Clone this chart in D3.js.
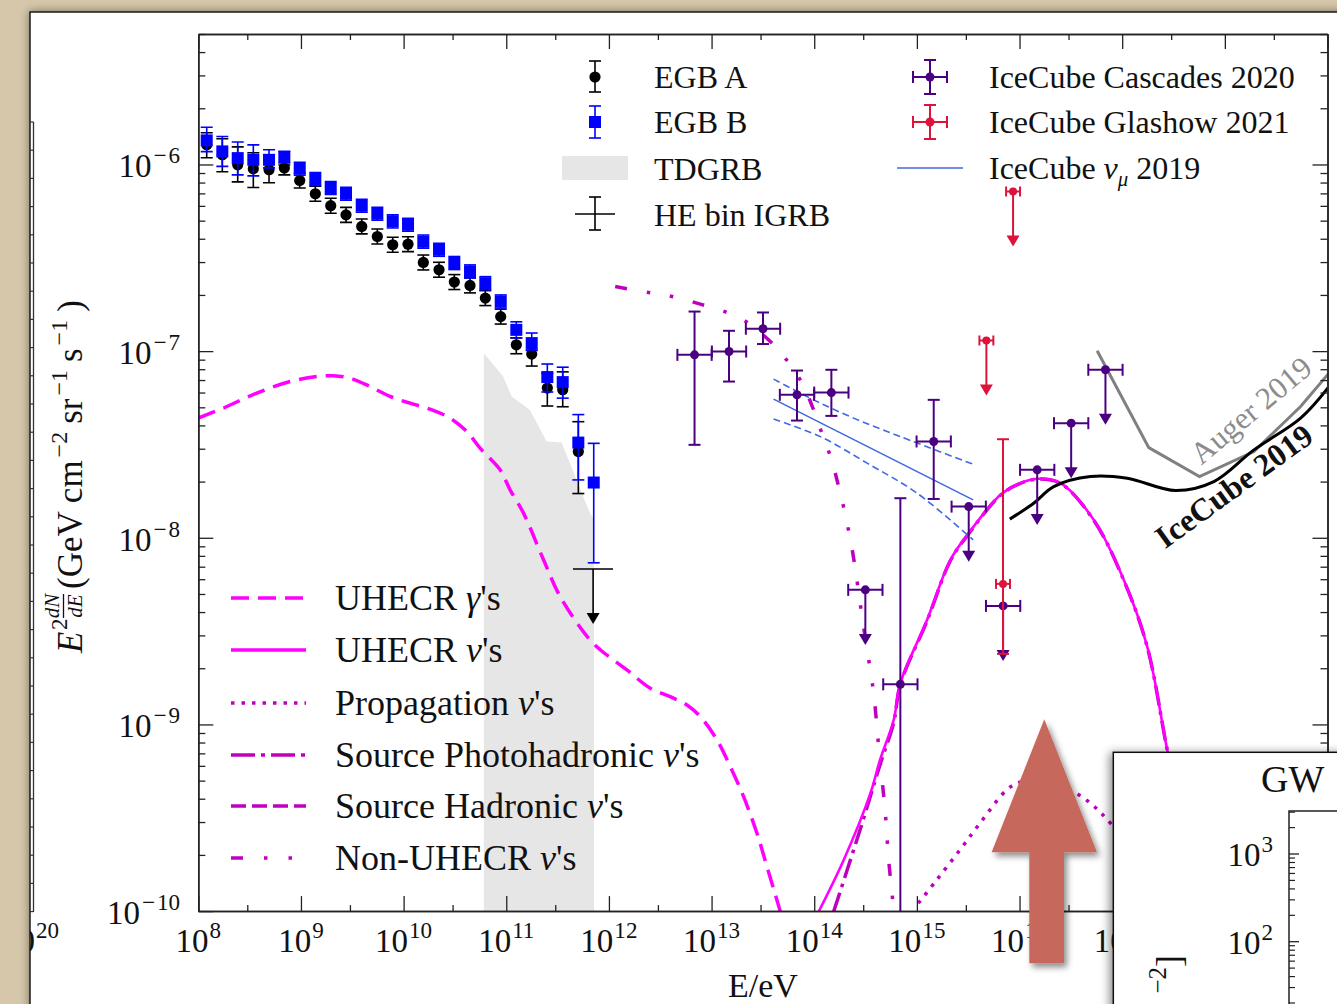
<!DOCTYPE html>
<html>
<head>
<meta charset="utf-8">
<script src="https://cdn.jsdelivr.net/npm/d3@7"></script>
<style>
html, body { margin: 0; padding: 0; background: #d6c7aa; overflow: hidden; }
svg { display: block; }
text { font-family: "Liberation Serif", "Times New Roman", serif; fill: #111; }
</style>
</head>
<body>
<svg id="chart" width="1337" height="1004"></svg>
<script>
// all values are log10: energies in eV, fluxes in GeV cm^-2 sr^-1 s^-1

// Fermi EGB, two foreground models
var egbLogE = [8.082, 8.234, 8.384, 8.536, 8.689, 8.838, 8.988, 9.140, 9.290, 9.439, 9.592, 9.744, 9.894,
               10.043, 10.192, 10.345, 10.494, 10.647, 10.796, 10.946, 11.098, 11.248, 11.400, 11.550, 11.702, 11.852];
var egbA   = [-5.894, -5.948, -6.002, -6.023, -6.028, -6.019, -6.086, -6.157, -6.221, -6.270, -6.332, -6.386, -6.430,
              -6.427, -6.525, -6.564, -6.630, -6.648, -6.716, -6.815, -6.966, -7.016, -7.198, -7.207, -7.538];
var egbAUp = [0.064, 0.086, 0.096, 0.086, 0.075, 0.016, 0.04, 0.04, 0.04, 0.04, 0.04, 0.04, 0.04,
              0.04, 0.04, 0.04, 0.04, 0.04, 0.04, 0.04, 0.037, 0.02, 0.08, 0.096, 0.16];
var egbADn = [0.070, 0.091, 0.091, 0.100, 0.070, 0.037, 0.04, 0.04, 0.04, 0.04, 0.04, 0.04, 0.04,
              0.04, 0.04, 0.04, 0.04, 0.04, 0.04, 0.04, 0.048, 0.064, 0.096, 0.091, 0.225];
var egbB   = [-5.871, -5.930, -5.966, -5.975, -5.975, -5.960, -6.023, -6.078, -6.126, -6.157, -6.221, -6.264, -6.305,
              -6.323, -6.413, -6.457, -6.528, -6.573, -6.636, -6.734, -6.886, -6.957, -7.139, -7.166, -7.490, -7.704];
var egbBUp = [0.07, 0.08, 0.086, 0.08, 0.054, 0.03, 0.035, 0.035, 0.035, 0.035, 0.035, 0.035, 0.035,
              0.035, 0.035, 0.035, 0.035, 0.035, 0.035, 0.035, 0.043, 0.054, 0.07, 0.08, 0.15, 0.21];
var egbBDn = [0.06, 0.08, 0.09, 0.086, 0.043, 0.032, 0.035, 0.035, 0.035, 0.035, 0.035, 0.035, 0.035,
              0.035, 0.035, 0.035, 0.035, 0.035, 0.035, 0.035, 0.043, 0.037, 0.08, 0.086, 0.2, 0.43];

// highest energy IGRB bin (upper limit)
var igrbLogE = 11.846, igrbFlux = -8.167, igrbLogELo = 11.65, igrbLogEHi = 12.04;

// TDGRB band (upper edge)
var tdgrbLogE  = [10.782, 10.970, 11.052, 11.231, 11.393, 11.539, 11.815, 11.854];
var tdgrbUpper = [-7.011, -7.136, -7.243, -7.315, -7.484, -7.490, -7.868, -7.900];

// IceCube cascades 2020
var cascLogE = [12.834, 13.170, 13.501, 13.832, 14.167, 14.498, 14.839, 15.164, 15.505, 15.840, 16.172, 16.503, 16.837];
var cascFlux = [-7.020, -7.002, -6.880, -7.234, -7.222, -8.279, -8.785, -7.484, -7.833, -8.365, -7.636, -7.386, -7.100];
var cascHi   = [-6.788, -6.891, -6.793, -7.104, -7.100, null, -7.788, -7.261, null, null, null, null, null];
var cascLo   = [-7.502, -7.163, -6.962, -7.372, -7.347, null, -11.0, -7.792, null, null, null, null, null];
var cascUL   = [false, false, false, false, false, true, false, false, true, true, true, true, true];
var cascHalfBin = 0.167;

// IceCube Glashow 2021
var glashowLogE = [15.937, 15.677, 15.839];
var glashowFlux = [-6.145, -6.943, -8.247];
var glashowHi   = [null, null, -7.472];
var glashowLo   = [null, null, -8.622];
var glashowUL   = [true, true, false];
var glashowHalfBin = 0.068;

// IceCube numu 2019 best fit and band
var numuLogE  = [13.604, 15.548];
var numuFlux  = [-7.257, -7.797];
var numuHiE   = [13.604, 13.994, 14.384, 14.839, 15.548];
var numuHi    = [-7.150, -7.261, -7.359, -7.458, -7.606];
var numuLoE   = [13.604, 14.059, 14.515, 15.002, 15.548];
var numuLo    = [-7.364, -7.458, -7.600, -7.761, -8.011];

// UHE neutrino limits
var augerLogE = [16.756, 17.259, 17.753, 18.283, 18.738, 19.014];
var augerFlux = [-6.998, -7.517, -7.672, -7.538, -7.297, -7.118];
var ic19LogE  = [15.905, 16.138, 16.333, 16.691, 17.049, 17.520, 17.893, 18.283, 18.738, 19.014];
var ic19Flux  = [-7.900, -7.815, -7.726, -7.672, -7.681, -7.747, -7.699, -7.529, -7.359, -7.190];

// model curves
var gammaLogE = [8.0, 8.244, 8.569, 8.894, 9.154, 9.316, 9.479, 9.674, 9.868, 10.063, 10.258, 10.453, 10.616, 10.745,
                 10.940, 11.037, 11.168, 11.363, 11.525, 11.801, 11.918, 12.175, 12.403, 12.597, 12.760, 12.890,
                 13.053, 13.182, 13.312, 13.442, 13.540, 13.670];
var gammaFlux = [-7.359, -7.305, -7.225, -7.163, -7.136, -7.132, -7.145, -7.190, -7.243, -7.279, -7.311, -7.359, -7.431, -7.520,
                 -7.636, -7.743, -7.868, -8.118, -8.315, -8.538, -8.601, -8.708, -8.806, -8.851, -8.896, -8.958,
                 -9.083, -9.226, -9.387, -9.583, -9.762, -10.003];
var nuLogE = [14.043, 14.287, 14.547, 14.641, 14.774, 14.839, 15.099, 15.327, 15.505, 15.814, 15.990, 16.172, 16.399,
              16.723, 17.016, 17.244, 17.439, 17.600, 17.750];
var nuFlux = [-10.003, -9.726, -9.369, -9.190, -8.976, -8.779, -8.440, -8.118, -7.975, -7.770, -7.711, -7.684, -7.707,
              -7.904, -8.226, -8.583, -9.136, -9.550, -10.050];
var photoLogE = [14.189, 14.449, 14.644, 14.774, 14.839, 15.099, 15.327, 15.505, 15.814, 15.990, 16.172, 16.399,
                 16.723, 17.016, 17.244, 17.439, 17.600, 17.750];
var photoFlux = [-10.003, -9.560, -9.210, -8.990, -8.785, -8.445, -8.122, -7.978, -7.772, -7.713, -7.686, -7.709,
                 -7.906, -8.228, -8.585, -9.138, -9.552, -10.052];
var propLogE = [15.014, 15.193, 15.420, 15.615, 15.875, 16.000, 16.200, 16.496, 16.691, 16.886, 17.200, 17.500];
var propFlux = [-9.958, -9.833, -9.672, -9.529, -9.351, -9.310, -9.290, -9.351, -9.422, -9.529, -9.750, -10.050];
var nonLogE = [12.061, 12.386, 12.614, 12.890, 13.150, 13.361, 13.572, 13.750, 13.881, 13.994, 14.086, 14.167, 14.238,
               14.303, 14.352, 14.390, 14.466, 14.515, 14.554, 14.586, 14.628, 14.661, 14.693, 14.725, 14.758, 14.774];
var nonFlux = [-6.654, -6.686, -6.707, -6.748, -6.793, -6.850, -6.949, -7.061, -7.171, -7.315, -7.458, -7.579, -7.726,
               -7.877, -8.011, -8.130, -8.422, -8.601, -8.734, -8.868, -9.119, -9.297, -9.476, -9.726, -9.905, -10.003];

var xExps = [8, 9, 10, 11, 12, 13, 14, 15, 16, 17, 18, 19];
var xLabelExps = [8, 9, 10, 11, 12, 13, 14, 15, 16, 17];   // the rest sit under the inset
var yExps = [-10, -9, -8, -7, -6];
var insetExps = [2, 3];

var svg = d3.select("#chart");
var defs = svg.append("defs");

function shadowFilter(id, dx, dy, sd, op) {
    var f = defs.append("filter").attr("id", id)
        .attr("x", "-10%").attr("y", "-10%").attr("width", "120%").attr("height", "120%");
    f.append("feDropShadow").attr("dx", dx).attr("dy", dy).attr("stdDeviation", sd)
        .attr("flood-color", "#000").attr("flood-opacity", op);
}
shadowFilter("paperShadow", 0, 0, 5, 0.45);
shadowFilter("insetShadow", -3, 1, 5, 0.45);
shadowFilter("arrowShadow", 3, 4, 3, 0.45);

defs.append("clipPath").attr("id", "paperClip")
    .append("rect").attr("x", 30).attr("y", 12).attr("width", 1307).attr("height", 992);
defs.append("clipPath").attr("id", "plotClip")
    .append("rect").attr("x", 198.3).attr("y", 34).attr("width", 1129.2).attr("height", 877.1);

// scales
var x = d3.scaleLog().domain([1e8, 1e19]).range([198.3, 1327.5]);
var y = d3.scaleLog().domain([1e-10, 5e-6]).range([911.1, 34]);
function X(l) { return x(Math.pow(10, l)); }
function Y(l) { return y(Math.pow(10, l)); }
function pairs(a, b) { return a.map(function(v, i) { return [v, b[i]]; }); }
var smooth = d3.line().x(function(d) { return X(d[0]); }).y(function(d) { return Y(d[1]); })
    .curve(d3.curveCatmullRom.alpha(0.5));
var straight = d3.line().x(function(d) { return X(d[0]); }).y(function(d) { return Y(d[1]); });

// paper
svg.append("rect").attr("x", 30).attr("y", 12).attr("width", 1400).attr("height", 1100)
    .attr("fill", "#fff").attr("stroke", "#1a1a1a").attr("stroke-width", 1.5)
    .attr("filter", "url(#paperShadow)");

var paper = svg.append("g").attr("clip-path", "url(#paperClip)");

// edge of the neighbouring panel
paper.append("line").attr("x1", 33.5).attr("x2", 33.5).attr("y1", 122).attr("y2", 912)
    .attr("stroke", "#333").attr("stroke-width", 1.3);
paper.selectAll(".nbTick").data(d3.range(122, 912, 28.2)).enter().append("line")
    .attr("x1", 30).attr("x2", 33.5).attr("y1", function(d) { return d; }).attr("y2", function(d) { return d; })
    .attr("stroke", "#333").attr("stroke-width", 1.2);
var nb = paper.append("text").attr("x", 35).attr("y", 951.7).attr("text-anchor", "end").attr("font-size", 33);
nb.append("tspan").text("10");
paper.append("text").attr("x", 36).attr("y", 938).attr("font-size", 23).text("20");

// ---------- main plot ----------
var plot = paper.append("g");
var data = plot.append("g").attr("clip-path", "url(#plotClip)");

// TDGRB band
var tdgrbPts = pairs(tdgrbLogE, tdgrbUpper);
var area = d3.area().x(function(d) { return X(d[0]); }).y0(Y(-11)).y1(function(d) { return Y(d[1]); });
data.append("path").attr("d", area(tdgrbPts)).attr("fill", "#e6e6e6");

// model curves
data.append("path").attr("d", smooth(pairs(gammaLogE, gammaFlux)))
    .attr("fill", "none").attr("stroke", "#ff00ff").attr("stroke-width", 3.5).attr("stroke-dasharray", "18,9");
data.append("path").attr("d", smooth(pairs(nonLogE, nonFlux)))
    .attr("fill", "none").attr("stroke", "#bf00bf").attr("stroke-width", 3.5).attr("stroke-dasharray", "12,20,3.5,20,3.5,20");
data.append("path").attr("d", smooth(pairs(propLogE, propFlux)))
    .attr("fill", "none").attr("stroke", "#bf00bf").attr("stroke-width", 3.5).attr("stroke-dasharray", "3.5,7");
data.append("path").attr("d", smooth(pairs(photoLogE, photoFlux)))
    .attr("fill", "none").attr("stroke", "#bf00bf").attr("stroke-width", 3.5).attr("stroke-dasharray", "20,6,3.5,6");
data.append("path").attr("d", smooth(pairs(nuLogE, nuFlux)))
    .attr("fill", "none").attr("stroke", "#ff00ff").attr("stroke-width", 2.6);

// IceCube numu band
data.append("path").attr("d", straight(pairs(numuLogE, numuFlux)))
    .attr("fill", "none").attr("stroke", "#4169e1").attr("stroke-width", 1.6);
[pairs(numuHiE, numuHi), pairs(numuLoE, numuLo)].forEach(function(p) {
    data.append("path").attr("d", smooth(p)).attr("fill", "none").attr("stroke", "#4169e1")
        .attr("stroke-width", 1.6).attr("stroke-dasharray", "7,4");
});

// UHE limits
data.append("path").attr("d", straight(pairs(augerLogE, augerFlux)))
    .attr("fill", "none").attr("stroke", "#808080").attr("stroke-width", 3);
data.append("path").attr("d", smooth(pairs(ic19LogE, ic19Flux)))
    .attr("fill", "none").attr("stroke", "#000").attr("stroke-width", 3);

// error bar helpers
function vbar(g, cx, y1, y2, cap, color, w) {
    g.append("line").attr("x1", cx).attr("x2", cx).attr("y1", y1).attr("y2", y2)
        .attr("stroke", color).attr("stroke-width", w);
    if (cap) {
        [y1, y2].forEach(function(yy) {
            g.append("line").attr("x1", cx - cap).attr("x2", cx + cap).attr("y1", yy).attr("y2", yy)
                .attr("stroke", color).attr("stroke-width", w);
        });
    }
}
function hbar(g, x1, x2, cy, cap, color, w) {
    g.append("line").attr("x1", x1).attr("x2", x2).attr("y1", cy).attr("y2", cy)
        .attr("stroke", color).attr("stroke-width", w);
    if (cap) {
        [x1, x2].forEach(function(xx) {
            g.append("line").attr("x1", xx).attr("x2", xx).attr("y1", cy - cap).attr("y2", cy + cap)
                .attr("stroke", color).attr("stroke-width", w);
        });
    }
}
function ulArrow(g, cx, y0, y1, color, w) {
    g.append("line").attr("x1", cx).attr("x2", cx).attr("y1", y0).attr("y2", y1 - 6)
        .attr("stroke", color).attr("stroke-width", w);
    g.append("path").attr("d", "M" + (cx - 6.5) + "," + (y1 - 11) + "L" + (cx + 6.5) + "," + (y1 - 11) + "L" + cx + "," + y1 + "Z")
        .attr("fill", color);
}
var ulDecades = 0.295;

// cascades
var casc = data.append("g");
cascLogE.forEach(function(e, i) {
    var cx = X(e), cy = Y(cascFlux[i]);
    hbar(casc, X(e - cascHalfBin), X(e + cascHalfBin), cy, 6, "#4b0082", 2);
    if (cascUL[i]) ulArrow(casc, cx, cy, Y(cascFlux[i] - ulDecades), "#4b0082", 2);
    else vbar(casc, cx, Y(cascHi[i]), Y(cascLo[i]), 6, "#4b0082", 2);
});
casc.selectAll("circle").data(cascLogE).enter().append("circle")
    .attr("cx", function(d) { return X(d); }).attr("cy", function(d, i) { return Y(cascFlux[i]); })
    .attr("r", 4.5).attr("fill", "#4b0082");

// Glashow
var gla = data.append("g");
glashowLogE.forEach(function(e, i) {
    var cx = X(e), cy = Y(glashowFlux[i]);
    hbar(gla, X(e - glashowHalfBin), X(e + glashowHalfBin), cy, 5, "#dc143c", 2);
    if (glashowUL[i]) ulArrow(gla, cx, cy, Y(glashowFlux[i] - ulDecades), "#dc143c", 2);
    else vbar(gla, cx, Y(glashowHi[i]), Y(glashowLo[i]), 6, "#dc143c", 2);
});
gla.selectAll("circle").data(glashowLogE).enter().append("circle")
    .attr("cx", function(d) { return X(d); }).attr("cy", function(d, i) { return Y(glashowFlux[i]); })
    .attr("r", 4).attr("fill", "#dc143c");

// EGB A (black) and EGB B (blue)
var ga = data.append("g");
egbA.forEach(function(v, i) {
    vbar(ga, X(egbLogE[i]), Y(v + egbAUp[i]), Y(v - egbADn[i]), 6, "#000", 1.6);
});
ga.selectAll("circle").data(egbA).enter().append("circle")
    .attr("cx", function(d, i) { return X(egbLogE[i]); }).attr("cy", function(d) { return Y(d); })
    .attr("r", 5.6).attr("fill", "#000");
var gb = data.append("g");
egbB.forEach(function(v, i) {
    vbar(gb, X(egbLogE[i]), Y(v + egbBUp[i]), Y(v - egbBDn[i]), 6, "#0000ff", 1.6);
});
gb.selectAll("rect").data(egbB).enter().append("rect")
    .attr("x", function(d, i) { return X(egbLogE[i]) - 6; }).attr("y", function(d) { return Y(d) - 6; })
    .attr("width", 12).attr("height", 12).attr("fill", "#0000ff");

// HE bin IGRB
var ig = data.append("g");
hbar(ig, X(igrbLogELo), X(igrbLogEHi), Y(igrbFlux), 0, "#000", 1.6);
ulArrow(ig, X(igrbLogE), Y(igrbFlux), Y(igrbFlux - ulDecades), "#000", 1.6);

// limit labels
var aPos = [X(18.32), Y(-7.36)];
data.append("text").attr("transform", "translate(" + aPos[0] + "," + aPos[1] + ") rotate(-40)")
    .attr("text-anchor", "middle").attr("font-size", 31).style("fill", "#8c8c8c").text("Auger 2019");
var iPos = [X(18.15), Y(-7.77)];
data.append("text").attr("transform", "translate(" + iPos[0] + "," + iPos[1] + ") rotate(-36)")
    .attr("text-anchor", "middle").attr("font-size", 32).attr("font-weight", "bold").text("IceCube 2019");

// axes
function styleAxis(g) {
    g.select(".domain").attr("stroke", "#222").attr("stroke-width", 1.5);
    g.selectAll(".tick line").attr("stroke", "#222").attr("stroke-width", 1.3);
}
var majorX = xExps.map(function(e) { return Math.pow(10, e); });
var minorX = xExps.slice(0, -1).map(function(e) { return 3 * Math.pow(10, e); });
var majorY = yExps.map(function(e) { return Math.pow(10, e); });
var minorY = [];
yExps.forEach(function(e) {
    d3.range(2, 10).forEach(function(k) { if (k * Math.pow(10, e) <= 5e-6) minorY.push(k * Math.pow(10, e)); });
});
var axes = plot.append("g");
[[d3.axisBottom, 911.1], [d3.axisTop, 34]].forEach(function(a) {
    axes.append("g").attr("transform", "translate(0," + a[1] + ")")
        .call(a[0](x).tickValues(majorX).tickSize(-15).tickSizeOuter(0).tickFormat("")).call(styleAxis);
    axes.append("g").attr("transform", "translate(0," + a[1] + ")")
        .call(a[0](x).tickValues(minorX).tickSize(-6).tickSizeOuter(0).tickFormat("")).call(styleAxis);
});
[[d3.axisLeft, 198.3], [d3.axisRight, 1327.5]].forEach(function(a) {
    axes.append("g").attr("transform", "translate(" + a[1] + ",0)")
        .call(a[0](y).tickValues(majorY).tickSize(-15).tickSizeOuter(0).tickFormat("")).call(styleAxis);
    axes.append("g").attr("transform", "translate(" + a[1] + ",0)")
        .call(a[0](y).tickValues(minorY).tickSize(-7).tickSizeOuter(0).tickFormat("")).call(styleAxis);
});

function powText(g, px, py, anchor, exp, size) {
    var t = g.append("text").attr("x", px).attr("y", py).attr("text-anchor", anchor).attr("font-size", size);
    t.append("tspan").text("10");
    var s = t.append("tspan").attr("dx", exp < 0 ? 2 : 1).attr("dy", -size * 0.43).attr("font-size", size * 0.7);
    if (exp < 0) {
        s.text("\u2212");
        t.append("tspan").attr("dx", 2).attr("font-size", size * 0.7).text(String(-exp));
    } else {
        s.text(String(exp));
    }
    return t;
}
xLabelExps.forEach(function(e) { powText(axes, X(e), 951.7, "middle", e, 33); });
yExps.forEach(function(e) { powText(axes, 180, Y(e) + 13, "end", e, 33); });

axes.append("text").attr("x", 763).attr("y", 997).attr("text-anchor", "middle").attr("font-size", 34).text("E/eV");

// y label
var yl = axes.append("g").attr("transform", "translate(82,653) rotate(-90)");
yl.append("text").attr("x", 0).attr("y", 0).attr("font-size", 35).attr("font-style", "italic").text("E");
yl.append("text").attr("x", 23).attr("y", -15).attr("font-size", 23).text("2");
yl.append("text").attr("x", 47).attr("y", -23).attr("text-anchor", "middle").attr("font-size", 21)
    .attr("font-style", "italic").text("dN");
yl.append("line").attr("x1", 35).attr("x2", 59).attr("y1", -18.5).attr("y2", -18.5)
    .attr("stroke", "#111").attr("stroke-width", 1.3);
yl.append("text").attr("x", 47).attr("y", 0).attr("text-anchor", "middle").attr("font-size", 21)
    .attr("font-style", "italic").text("dE");
var unit = yl.append("text").attr("x", 64).attr("y", 0).attr("font-size", 35);
unit.append("tspan").text("(GeV cm");
unit.append("tspan").attr("dx", 3).attr("dy", -15).attr("font-size", 24).text("\u22122");
unit.append("tspan").attr("dx", 8).attr("dy", 15).text("sr");
unit.append("tspan").attr("dx", 3).attr("dy", -15).attr("font-size", 24).text("\u22121");
unit.append("tspan").attr("dx", 8).attr("dy", 15).text("s");
unit.append("tspan").attr("dx", 3).attr("dy", -15).attr("font-size", 24).text("\u22121");
unit.append("tspan").attr("dx", 8).attr("dy", 15).text(")");

// ---------- legends ----------
var leg = plot.append("g");
function legText(px, py, size, parts) {
    var t = leg.append("text").attr("x", px).attr("y", py).attr("font-size", size);
    parts.forEach(function(p) {
        var s = t.append("tspan").text(p.t);
        if (p.i) s.attr("font-style", "italic");
        if (p.sub) s.attr("font-size", size * 0.65).attr("dy", 7);
        if (p.back) s.attr("dy", -7);
    });
}
// top left column
var lgA = leg.append("g");
vbar(lgA, 595, 61, 92, 6, "#000", 1.6);
lgA.append("circle").attr("cx", 595).attr("cy", 77).attr("r", 5.6).attr("fill", "#000");
vbar(lgA, 595, 106, 138, 6, "#0000ff", 1.6);
lgA.append("rect").attr("x", 589).attr("y", 116).attr("width", 12).attr("height", 12).attr("fill", "#0000ff");
lgA.append("rect").attr("x", 562).attr("y", 156).attr("width", 66).attr("height", 24).attr("fill", "#e6e6e6");
hbar(lgA, 575, 615, 214, 0, "#000", 1.6);
vbar(lgA, 595, 197, 230, 6, "#000", 1.6);
legText(654, 88, 32, [{t: "EGB A"}]);
legText(654, 133, 32, [{t: "EGB B"}]);
legText(654, 180, 32, [{t: "TDGRB"}]);
legText(654, 226, 32, [{t: "HE bin IGRB"}]);
// top right column
hbar(lgA, 913, 947, 77, 6, "#4b0082", 2);
vbar(lgA, 930, 60, 94, 6, "#4b0082", 2);
lgA.append("circle").attr("cx", 930).attr("cy", 77).attr("r", 4.5).attr("fill", "#4b0082");
hbar(lgA, 913, 947, 122, 6, "#dc143c", 2);
vbar(lgA, 930, 105, 139, 6, "#dc143c", 2);
lgA.append("circle").attr("cx", 930).attr("cy", 122).attr("r", 4.5).attr("fill", "#dc143c");
lgA.append("line").attr("x1", 897).attr("x2", 963).attr("y1", 168).attr("y2", 168)
    .attr("stroke", "#4169e1").attr("stroke-width", 1.6);
legText(989, 88, 32, [{t: "IceCube Cascades 2020"}]);
legText(989, 133, 32, [{t: "IceCube Glashow 2021"}]);
legText(989, 179, 32, [{t: "IceCube "}, {t: "\u03bd", i: true}, {t: "\u03bc", i: true, sub: true}, {t: " 2019", back: true}]);

// bottom left legend
var modelLeg = [
    {dash: "18,9", color: "#ff00ff", parts: [{t: "UHECR "}, {t: "\u03b3", i: true}, {t: "'s"}]},
    {dash: null, color: "#ff00ff", parts: [{t: "UHECR "}, {t: "\u03bd", i: true}, {t: "'s"}]},
    {dash: "3.5,7", color: "#bf00bf", parts: [{t: "Propagation "}, {t: "\u03bd", i: true}, {t: "'s"}]},
    {dash: "24,6,4,6", color: "#bf00bf", parts: [{t: "Source Photohadronic "}, {t: "\u03bd", i: true}, {t: "'s"}]},
    {dash: "15,6", color: "#bf00bf", parts: [{t: "Source Hadronic "}, {t: "\u03bd", i: true}, {t: "'s"}]},
    {dash: "12,21,3.5,21,3.5,21", color: "#bf00bf", parts: [{t: "Non-UHECR "}, {t: "\u03bd", i: true}, {t: "'s"}]}
];
var legY = [598, 650, 703, 755, 806, 858];
modelLeg.forEach(function(m, i) {
    var l = leg.append("line").attr("x1", 231).attr("x2", 306).attr("y1", legY[i]).attr("y2", legY[i])
        .attr("stroke", m.color).attr("stroke-width", 3.5);
    if (m.dash) l.attr("stroke-dasharray", m.dash);
    legText(335, legY[i] + 12, 36, m.parts);
});

// ---------- overlaid inset panel ----------
var inset = svg.append("g");
inset.append("rect").attr("x", 1113.3).attr("y", 752.3).attr("width", 400).attr("height", 400)
    .attr("fill", "#fff").attr("stroke", "#111").attr("stroke-width", 1.5).attr("filter", "url(#insetShadow)");
inset.append("text").attr("x", 1261).attr("y", 792).attr("font-size", 38).text("GW");
var yi = d3.scaleLog().domain([100, 1000]).range([941.7, 854]);
inset.append("path").attr("d", "M1289,1010V811H1345").attr("fill", "none").attr("stroke", "#222").attr("stroke-width", 1.5);
var insetMinor = [];
[1, 2, 3].forEach(function(e) {
    d3.range(2, 10).forEach(function(k) {
        var v = k * Math.pow(10, e);
        if (yi(v) > 812 && yi(v) < 1004) insetMinor.push(v);
    });
});
inset.selectAll(".imin").data(insetMinor).enter().append("line")
    .attr("x1", 1289).attr("x2", 1295).attr("y1", function(d) { return yi(d); }).attr("y2", function(d) { return yi(d); })
    .attr("stroke", "#222").attr("stroke-width", 1.2);
insetExps.forEach(function(e) {
    var v = Math.pow(10, e);
    inset.append("line").attr("x1", 1289).attr("x2", 1299).attr("y1", yi(v)).attr("y2", yi(v))
        .attr("stroke", "#222").attr("stroke-width", 1.3);
    powText(inset, 1273, yi(v) + 12, "end", e, 33);
});
var il = inset.append("text").attr("transform", "translate(1181,955) rotate(-90)")
    .attr("text-anchor", "end").attr("font-size", 36);
il.append("tspan").attr("dy", -15).attr("font-size", 25).text("\u22122");
il.append("tspan").attr("dy", 15).text("]");

// annotation arrow
svg.append("path")
    .attr("d", "M1044.3,719.3L1097,852.3L1064,852.3L1064,963.3L1029.3,963.3L1029.3,852.3L991.6,852.3Z")
    .attr("fill", "#c6685c").attr("filter", "url(#arrowShadow)");
</script>
</body>
</html>
